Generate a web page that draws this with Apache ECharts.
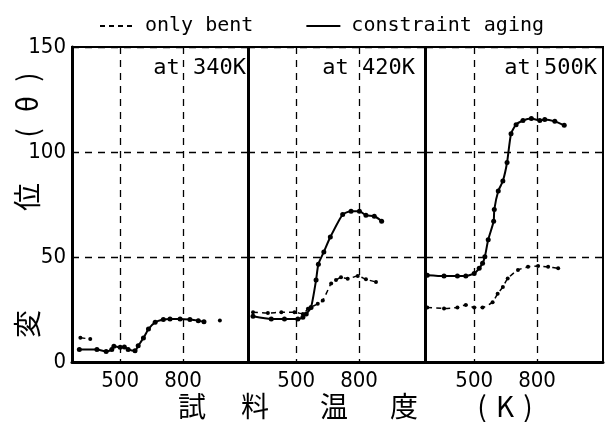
<!DOCTYPE html>
<html>
<head>
<meta charset="utf-8">
<script src="https://cdn.jsdelivr.net/npm/echarts@6/dist/echarts.min.js"></script>
<style>
  html, body { margin: 0; padding: 0; background: #fff; }
  #chart { width: 606px; height: 422px; }
</style>
</head>
<body>
<div id="chart"></div>
<script>
// panel titles (aging temperature)
var panelNames = ['at 340K', 'at 420K', 'at 500K'];
var xTickValues = [500, 800];

// [sample temperature K, displacement θ]
var agingAt340 = [[305, 6], [389, 6], [433, 5], [460, 6], [470, 7.5], [500, 7], [520, 7.2], [538, 6], [571, 5.3],
    [586, 7.7], [611, 11.4], [635, 15.7], [667, 18.9], [706, 20.2], [738, 20.5], [786, 20.5], [833, 20.2], [873, 19.7], [900, 19.2]];
var bentAt340 = [[310, 11.5], [357, 11], [600, '-'], [976, 19.8]];

var agingAt420 = [[294, 21.8], [381, 20.5], [444, 20.5], [508, 20.5], [532, 21.3], [548, 22.9], [571, 26], [595, 39],
    [606, 46.6], [632, 52.4], [663, 59.5], [722, 70.2], [762, 71.8], [802, 71.8], [833, 69.9], [873, 69.4], [908, 67]];
var bentAt420 = [[294, 23.7], [365, 23.3], [429, 23.7], [492, 23.7], [532, 22.9], [556, 25.3], [603, 27.7], [627, 29.3],
    [667, 37.4], [690, 39], [714, 40.3], [746, 39.7], [794, 40.9], [833, 39.4], [881, 38.1]];

var agingAt500 = [[276, 41.3], [356, 40.9], [420, 40.9], [460, 40.9], [500, 42.2], [524, 44.6], [540, 47], [551, 50.1],
    [567, 58.2], [593, 67], [596, 72.6], [615, 81.4], [637, 86.2], [657, 95], [676, 108.7], [700, 113], [733, 115],
    [773, 115.9], [813, 115], [837, 115.5], [885, 114.6], [930, 112.7]];
var bentAt500 = [[276, 26], [356, 25.5], [420, 26], [460, 27.2], [500, 26], [540, 26], [588, 28.5], [612, 32.5],
    [637, 35.7], [660, 39.8], [709, 43.8], [757, 45.3], [805, 45.7], [853, 45.3], [901, 44.6]];

var agingData = [agingAt340, agingAt420, agingAt500];
var bentData = [bentAt340, bentAt420, bentAt500];

var chart = echarts.init(document.getElementById('chart'));

var numFont = '"DejaVu Sans Condensed", "Liberation Sans", sans-serif';
var gridLefts = [72, 248, 426];
var grids = [], xAxes = [], yAxes = [], series = [];
var dash = { color: '#000', width: 1.3, type: [7, 6] };

for (var i = 0; i < 3; i++) {
    grids.push({ left: gridLefts[i], top: 47, width: 177, height: 315, show: true, borderColor: '#000', borderWidth: 2 });
    xAxes.push({
        type: 'value', gridIndex: i, min: 270, max: 1115,
        axisLine: { show: true, lineStyle: { color: '#000', width: 3 } },
        axisTick: { show: false, customValues: xTickValues },
        axisLabel: { customValues: xTickValues, color: '#000', fontFamily: numFont, fontSize: 22, margin: 8 },
        splitLine: { show: true, lineStyle: dash }
    });
    yAxes.push({
        type: 'value', gridIndex: i, min: 0, max: 150, interval: 50,
        axisLine: { show: i === 0, lineStyle: { color: '#000', width: 3 } },
        axisTick: { show: false },
        axisLabel: { show: i === 0, color: '#000', fontFamily: numFont, fontSize: 22, margin: 6 },
        splitLine: { show: true, lineStyle: dash }
    });
    series.push({
        name: 'only bent', type: 'line', xAxisIndex: i, yAxisIndex: i,
        data: bentData[i], smooth: 0.2, symbol: 'circle', symbolSize: 4,
        itemStyle: { color: '#000' },
        lineStyle: { color: '#000', width: 1.5, type: [5, 4] }
    });
    series.push({
        name: 'constraint aging', type: 'line', xAxisIndex: i, yAxisIndex: i,
        data: agingData[i], smooth: 0.2, symbol: 'circle', symbolSize: 5,
        itemStyle: { color: '#000' },
        lineStyle: { color: '#000', width: 2 }
    });
}

var graphic = [];
var panelRight = [246, 415, 597];
for (var j = 0; j < 3; j++) {
    graphic.push({
        type: 'text', x: panelRight[j], y: 68,
        style: { text: panelNames[j], fill: '#000', font: '22px "DejaVu Sans Mono"', align: 'right', verticalAlign: 'middle' }
    });
}
// x axis title 試料温度 (K)
var xTitle = [['試', 192], ['料', 255], ['温', 334], ['度', 404], ['(', 482], ['K', 505], [')', 528]];
xTitle.forEach(function (c) {
    graphic.push({
        type: 'text', x: c[1], y: 406,
        style: { text: c[0], fill: '#000', font: '28px "Noto Sans CJK JP"', align: 'center', verticalAlign: 'middle' }
    });
});
// y axis title 変位 (θ), rotated
var yTitle = [['変', 324], ['位', 197], ['(', 133], ['θ', 104], [')', 77]];
yTitle.forEach(function (c) {
    graphic.push({
        type: 'text', x: 27, y: c[1], rotation: Math.PI / 2,
        style: { text: c[0], fill: '#000', font: '28px "Noto Sans CJK JP"', align: 'center', verticalAlign: 'middle' }
    });
});

var option = {
    animation: false,
    legend: {
        data: ['only bent', 'constraint aging'],
        left: 94, top: 11,
        itemWidth: 34, itemHeight: 14, itemGap: 52,
        itemStyle: { opacity: 0 },
        textStyle: { color: '#000', fontFamily: 'DejaVu Sans Mono', fontSize: 20, padding: [0, 0, 0, 6] }
    },
    grid: grids,
    xAxis: xAxes,
    yAxis: yAxes,
    series: series,
    graphic: graphic
};
chart.setOption(option);
</script>
</body>
</html>
